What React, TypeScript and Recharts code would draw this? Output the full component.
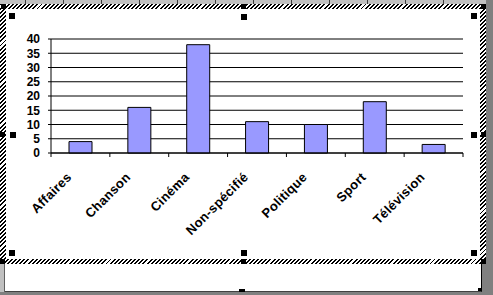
import { BarChart, Bar, XAxis, YAxis, CartesianGrid } from 'recharts';

const categories = ['Affaires', 'Chanson', 'Cinéma', 'Non-spécifié', 'Politique', 'Sport', 'Télévision'];
const counts = [4, 16, 38, 11, 10, 18, 3];
const yTicks = [0, 5, 10, 15, 20, 25, 30, 35, 40];

const data = categories.map((name, i) => ({ name, value: counts[i] }));

const FONT = '"Liberation Sans", Arial, sans-serif';
const HATCH = 'repeating-linear-gradient(135deg, #000 0px, #000 1.4px, #fff 1.4px, #fff 2.9px)';

const CategoryTick = (props: any) => {
  const { x, y, payload, index, width } = props;
  const half = width / categories.length / 2;
  const lx = x - 8;
  const ly = y + 25;
  return (
    <g>
      <line x1={x - half} y1={y} x2={x - half} y2={y + 4} stroke="#000" />
      {index === categories.length - 1 && (
        <line x1={x + half} y1={y} x2={x + half} y2={y + 4} stroke="#000" />
      )}
      <text
        x={lx}
        y={ly}
        textAnchor="end"
        transform={`rotate(-45, ${lx}, ${ly})`}
        fontFamily={FONT}
        fontWeight="bold"
        fontSize={13}
        letterSpacing={0.3}
        fill="#000"
      >
        {payload.value}
      </text>
    </g>
  );
};

const box = (left: number, top: number, width: number, height: number, style: any = {}) => (
  <div style={{ position: 'absolute', left, top, width, height, ...style }} />
);

// selection handles, inner and outer
const handles = [
  [9, 13], [241, 14], [471, 13],
  [10, 132], [471, 132],
  [9, 250], [241, 250], [471, 250],
];
const frameHandles = [
  [1, 4], [241, 4], [481, 4],
  [0, 132], [481, 132],
  [0, 259], [241, 259], [481, 259],
];

export default function App() {
  return (
    <div style={{ position: 'absolute', left: 0, top: 0, width: 493, height: 295, background: '#808080', overflow: 'hidden' }}>
      {/* ruler strip */}
      {box(0, 0, 486, 4, {
        background: 'repeating-linear-gradient(90deg, #c0c0c0 0px, #c0c0c0 37px, #404040 37px, #404040 38px)',
        backgroundPosition: '-12px 0',
      })}
      {/* chart window */}
      {box(0, 4, 486, 260, { background: HATCH })}
      {box(6, 9, 474, 250, { background: '#fff' })}
      {/* lower sheet area */}
      {box(0, 264, 482, 28, { background: '#fff', borderRight: '1px solid #000', borderBottom: '1px solid #404040', boxSizing: 'border-box' })}
      {box(0, 264, 4, 28, { background: '#c0c0c0', borderRight: '1px solid #606060' })}
      {box(239, 289, 6, 3, { background: '#000' })}
      {box(478, 288, 3, 3, { background: '#000' })}

      <div style={{ position: 'absolute', left: 0, top: 0 }}>
        <BarChart
          width={493}
          height={295}
          data={data}
          margin={{ top: 39, right: 30, left: 11, bottom: 42 }}
          barSize={23}
        >
          <CartesianGrid vertical={false} stroke="#000" strokeWidth={1} />
          <YAxis
            width={40}
            domain={[0, 40]}
            ticks={yTicks}
            interval={0}
            axisLine={{ stroke: '#000' }}
            tickLine={{ stroke: '#000' }}
            tickSize={3}
            tickMargin={8}
            tick={{ fill: '#000', fontFamily: FONT, fontWeight: 'bold', fontSize: 12 }}
          />
          <XAxis
            dataKey="name"
            height={100}
            interval={0}
            axisLine={{ stroke: '#000' }}
            tickLine={false}
            tickSize={0}
            tickMargin={0}
            tick={<CategoryTick />}
          />
          <Bar dataKey="value" fill="#9999ff" stroke="#000" strokeWidth={1} isAnimationActive={false} />
        </BarChart>
      </div>

      {handles.map(([l, t], i) => (
        <div key={'h' + i} style={{ position: 'absolute', left: l, top: t, width: 6, height: 6, background: '#000' }} />
      ))}
      {frameHandles.map(([l, t], i) => (
        <div key={'f' + i} style={{ position: 'absolute', left: l, top: t, width: 5, height: 5, background: '#000' }} />
      ))}
    </div>
  );
}
